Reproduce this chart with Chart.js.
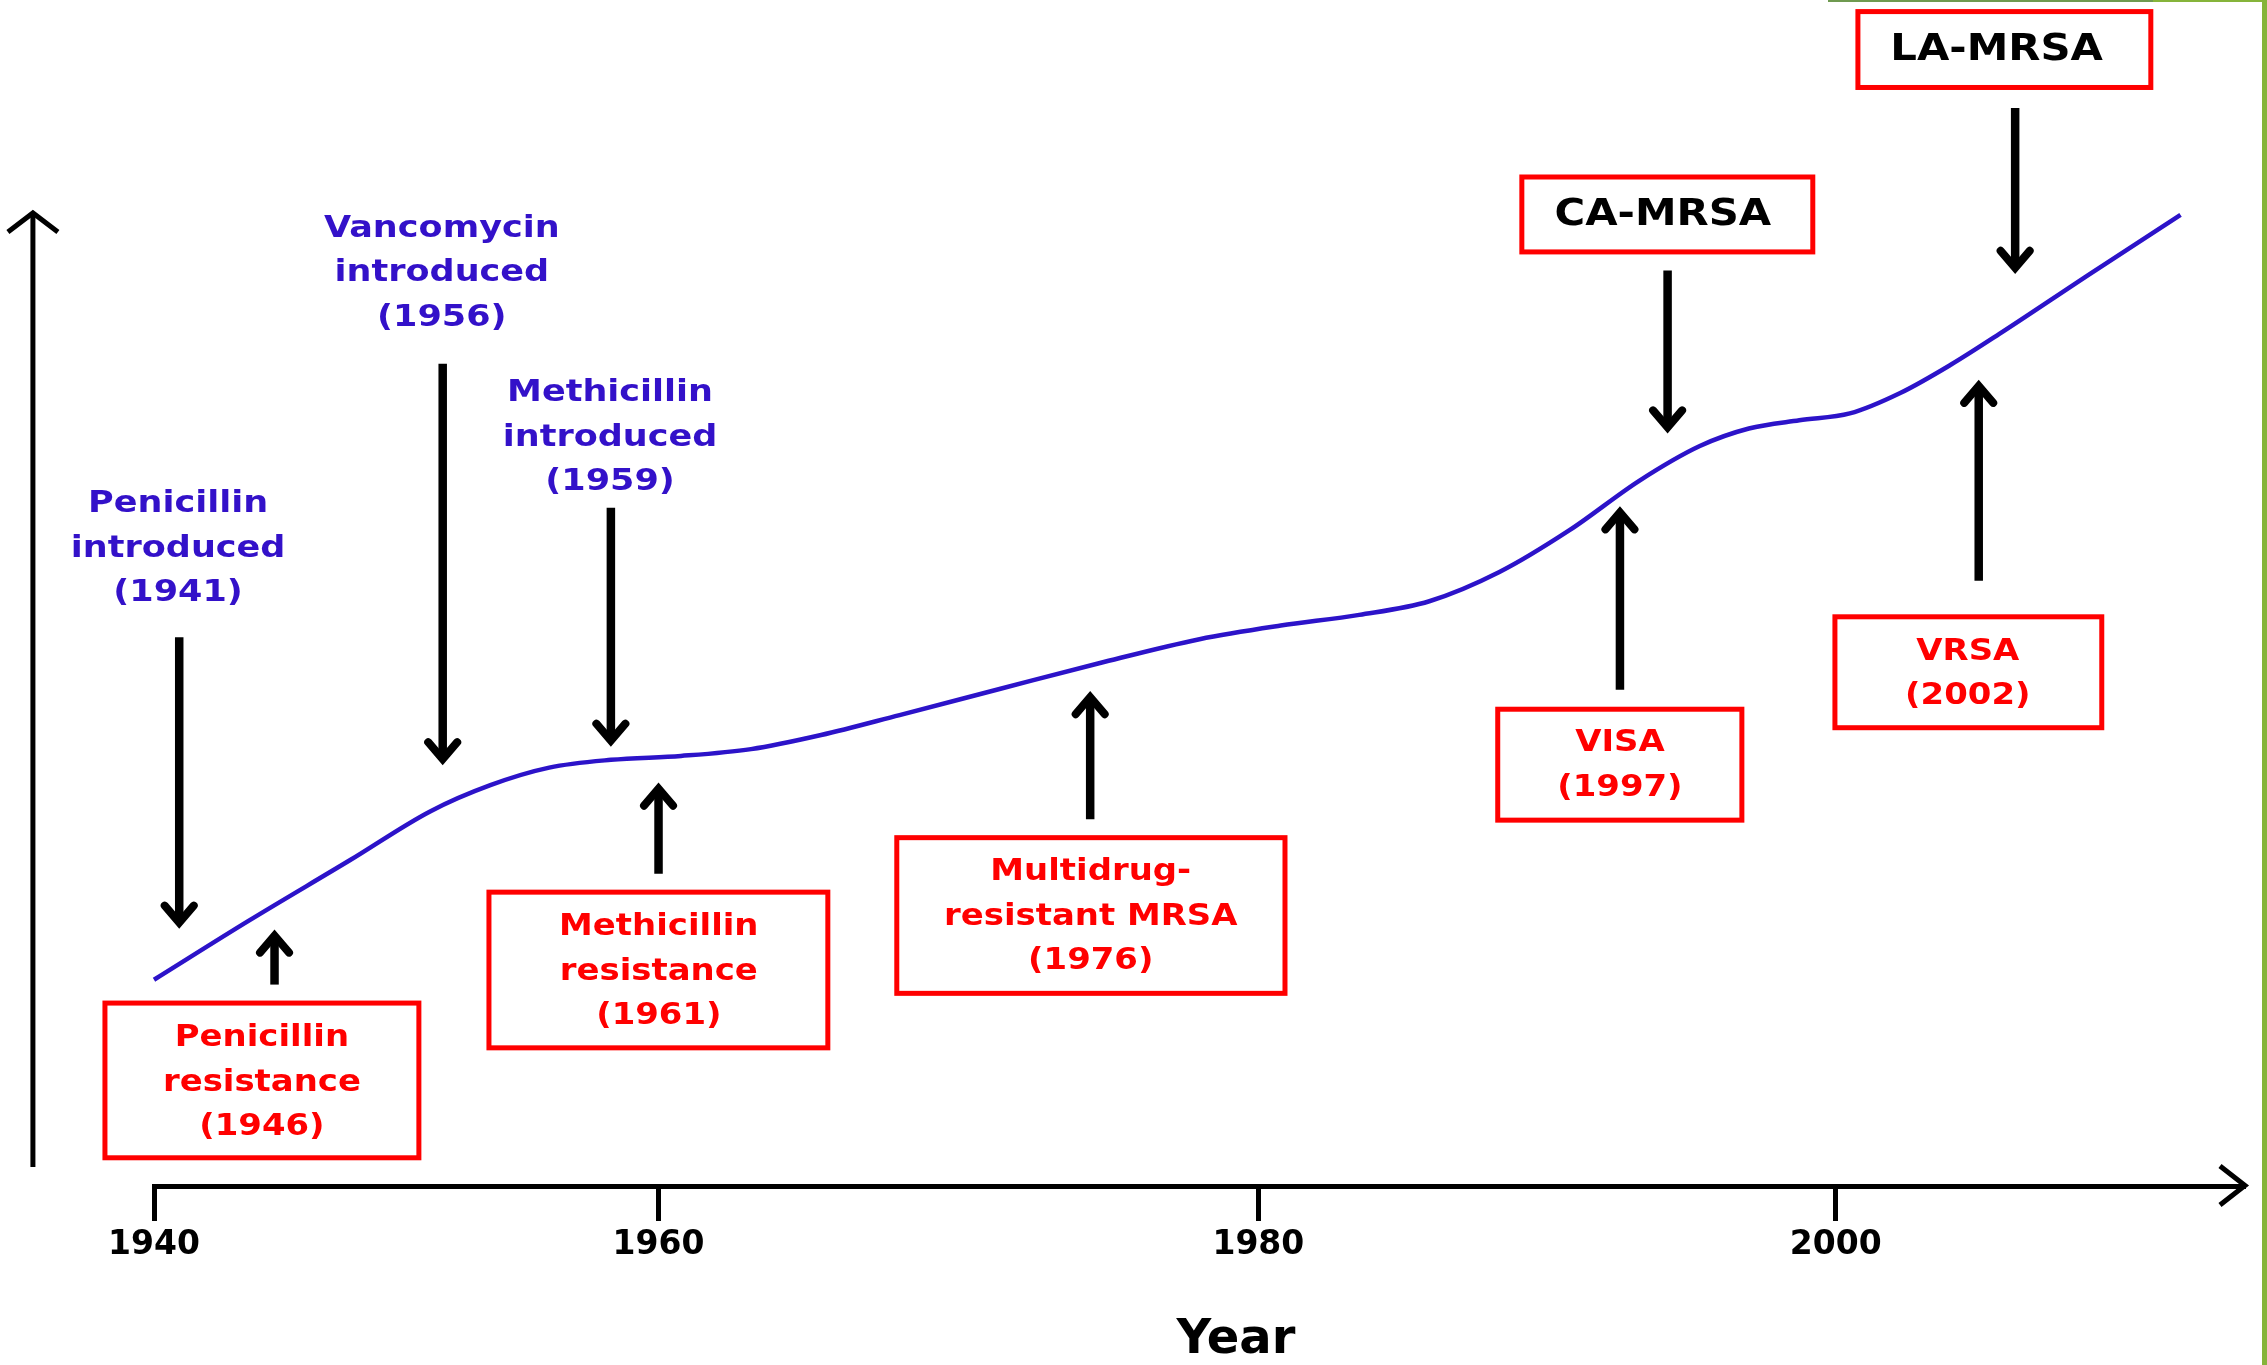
<!DOCTYPE html>
<html>
<head>
<meta charset="utf-8">
<title>MRSA timeline</title>
<script src="https://cdn.jsdelivr.net/npm/chart.js@4/dist/chart.umd.min.js"></script>
<style>
  html, body { margin: 0; padding: 0; background: #fff; }
  canvas { display: block; }
</style>
</head>
<body>
<canvas id="chart" width="2267" height="1365"></canvas>
<script>
// x runs along the drawn time axis (1940 and 2000 where they are drawn)
const tickLabels = ['1940', '1960', '1980', '2000'];
const tickAt = [1940, 1958.0, 1979.4, 2000];
const axisTitle = 'Year';

// the blue curve
const curveX = [1940.0, 1943.4, 1947.0, 1949.85, 1952.0, 1954.1, 1956.3, 1958.8, 1961.3, 1963.8,
  1966.6, 1970.2, 1973.75, 1977.3, 1980.2, 1983.0, 1985.5, 1988.0, 1990.5, 1993.0,
  1995.15, 1996.9, 1998.7, 2000.5, 2002.3, 2004.1, 2005.85, 2009.1, 2012.3];
const curveY = [21.2, 27.3, 33.5, 38.5, 41.2, 43.0, 43.8, 44.2, 44.9, 46.35,
  48.4, 51.1, 53.75, 56.2, 57.6, 58.7, 60.1, 63.1, 67.4, 72.5,
  76.05, 77.85, 78.7, 79.4, 81.5, 84.4, 87.6, 93.8, 99.8];

// arrows: position on the time axis, tail height, tip height
const arrowX = [1940.9, 1944.3, 1950.3, 1956.3, 1958.0, 1973.4, 1992.3, 1994.0, 2005.1, 2006.4];
const arrowFrom = [56.4, 20.7, 84.5, 69.7, 32.1, 37.7, 51.0, 94.1, 62.2, 110.8];
const arrowTo = [26.5, 26.3, 43.3, 45.2, 41.4, 50.8, 69.8, 77.4, 82.8, 93.8];

// labels
const noteText = [
  ['Penicillin', 'introduced', '(1941)'],
  ['Vancomycin', 'introduced', '(1956)'],
  ['Methicillin', 'introduced', '(1959)'],
  ['Penicillin', 'resistance', '(1946)'],
  ['Methicillin', 'resistance', '(1961)'],
  ['Multidrug-', 'resistant MRSA', '(1976)'],
  ['VISA', '(1997)'],
  ['VRSA', '(2002)'],
  ['CA-MRSA'],
  ['LA-MRSA']
];
const noteX = [1940.86, 1950.27, 1956.27, 1943.85, 1958.01, 1973.42, 1992.30, 2004.71, 1993.83, 2005.74];
const noteY = [65.5, 93.8, 76.9, 10.6, 22.0, 27.65, 43.2, 52.6, 99.8, 116.75];
const noteKind = ['intro', 'intro', 'intro', 'resist', 'resist', 'resist', 'resist', 'resist', 'strain', 'strain'];
// boxes round the boxed labels: left, right, top, bottom
const boxLeft = [null, null, null, 1938.25, 1951.95, 1966.50, 1987.94, 1999.97, 1988.80, 2000.79];
const boxRight = [null, null, null, 1949.45, 1964.04, 1980.35, 1996.65, 2009.49, 1999.18, 2011.24];
const boxTop = [null, null, null, 18.8, 30.2, 35.8, 49.0, 58.5, 103.7, 120.7];
const boxBottom = [null, null, null, 2.9, 14.2, 19.8, 37.6, 47.1, 96.0, 112.9];

const kindStyle = {
  intro: { color: '#3311c9', size: 31 },
  resist: { color: '#ff0000', size: 30 },
  strain: { color: '#000000', size: 37 }
};

const FONT = '"DejaVu Sans", "Open Sans", sans-serif';

function chevron(ctx, x, y, dx, dy, dir, horizontal) {
  ctx.beginPath();
  if (horizontal) {
    ctx.moveTo(x - dir * dy, y - dx);
    ctx.lineTo(x, y);
    ctx.lineTo(x - dir * dy, y + dx);
  } else {
    ctx.moveTo(x - dx, y - dir * dy);
    ctx.lineTo(x, y);
    ctx.lineTo(x + dx, y - dir * dy);
  }
  ctx.stroke();
}

const diagramPlugin = {
  id: 'diagram',
  afterDraw(chart) {
    const { ctx } = chart;
    const xs = chart.scales.x;
    const ys = chart.scales.y;
    ctx.save();

    // y axis arrow
    const ax = xs.getPixelForValue(1935.68);
    ctx.strokeStyle = '#000';
    ctx.lineWidth = 5;
    ctx.lineCap = 'butt';
    ctx.lineJoin = 'miter';
    ctx.beginPath();
    ctx.moveTo(ax, ys.getPixelForValue(1.95));
    ctx.lineTo(ax, ys.getPixelForValue(100));
    ctx.stroke();
    chevron(ctx, ax, ys.getPixelForValue(100), 25, 19, -1, false);

    // x axis arrow head and title
    chevron(ctx, xs.right, ys.getPixelForValue(0) - 0.5, 19.5, 25, 1, true);
    ctx.fillStyle = '#000';
    ctx.font = 'bold 48px ' + FONT;
    ctx.textAlign = 'center';
    ctx.textBaseline = 'middle';
    ctx.fillText(axisTitle, xs.getPixelForValue(1978.6), 1341);

    // event arrows
    arrowX.forEach((v, i) => {
      const x = xs.getPixelForValue(v);
      const y0 = ys.getPixelForValue(arrowFrom[i]);
      const y1 = ys.getPixelForValue(arrowTo[i]);
      const dir = y1 > y0 ? 1 : -1;
      const vertex = y1 - dir * 5.5;
      ctx.lineWidth = 8.5;
      ctx.lineCap = 'butt';
      ctx.beginPath();
      ctx.moveTo(x, y0);
      ctx.lineTo(x, vertex);
      ctx.stroke();
      ctx.lineWidth = 8;
      ctx.lineCap = 'round';
      chevron(ctx, x, vertex, 14.5, 17, dir, false);
    });

    // boxes and labels
    noteText.forEach((lines, i) => {
      const st = kindStyle[noteKind[i]];
      if (boxLeft[i] !== null) {
        const l = xs.getPixelForValue(boxLeft[i]);
        const r = xs.getPixelForValue(boxRight[i]);
        const t = ys.getPixelForValue(boxTop[i]);
        const b = ys.getPixelForValue(boxBottom[i]);
        ctx.strokeStyle = '#ff0000';
        ctx.lineWidth = 5;
        ctx.strokeRect(l, t, r - l, b - t);
      }
      ctx.fillStyle = st.color;
      ctx.font = 'bold ' + st.size + 'px ' + FONT;
      ctx.textAlign = 'center';
      ctx.textBaseline = 'middle';
      const cx = xs.getPixelForValue(noteX[i]);
      const cy = ys.getPixelForValue(noteY[i]);
      const gap = 44.5;
      lines.forEach((line, k) => {
        const y = cy + (k - (lines.length - 1) / 2) * gap;
        ctx.save();
        ctx.translate(cx, y);
        ctx.scale(1.13, 1);
        ctx.fillText(line, 0, 0);
        ctx.restore();
      });
    });

    // green frame at the top right of the slide
    ctx.fillStyle = '#6f9a50';
    ctx.fillRect(1828, 0, 325, 2);
    ctx.fillStyle = '#86b43a';
    ctx.fillRect(2153, 0, 114, 2);
    ctx.fillRect(2262, 0, 5, chart.height);
    ctx.restore();
  }
};

new Chart(document.getElementById('chart'), {
  type: 'line',
  data: {
    datasets: [{
      data: curveX.map((x, i) => ({ x: x, y: curveY[i] })),
      borderColor: '#2c13c9',
      borderWidth: 4.5,
      pointRadius: 0,
      fill: false,
      cubicInterpolationMode: 'monotone',
      clip: false
    }]
  },
  options: {
    responsive: false,
    animation: false,
    events: [],
    layout: { padding: { left: 154, right: 22, top: 213, bottom: 94.4 } },
    plugins: { legend: { display: false }, tooltip: { enabled: false } },
    scales: {
      x: {
        type: 'linear',
        min: 1940,
        max: 2014.6,
        afterBuildTicks: axis => { axis.ticks = tickAt.map(v => ({ value: v })); },
        grid: { drawOnChartArea: false, drawTicks: true, tickLength: 35, tickWidth: 5, tickColor: '#000' },
        border: { display: true, color: '#000', width: 5 },
        ticks: {
          autoSkip: false,
          maxRotation: 0,
          padding: 5,
          color: '#000',
          font: { family: FONT, weight: 'bold', size: 33 },
          callback: (value, index) => tickLabels[index]
        },
        title: { display: false }
      },
      y: {
        type: 'linear',
        display: false,
        min: 0,
        max: 100
      }
    }
  },
  plugins: [diagramPlugin]
});
</script>
</body>
</html>
